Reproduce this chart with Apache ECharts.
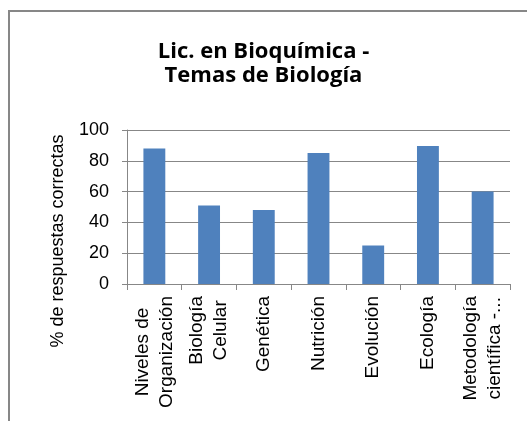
<!DOCTYPE html>
<html>
<head>
<meta charset="utf-8">
<script src="https://cdn.jsdelivr.net/npm/echarts@6/dist/echarts.min.js"></script>
<style>
html,body{margin:0;padding:0;background:#fff;}
#c{width:527px;height:421px;}
</style>
</head>
<body>
<div id="c"></div>
<script>
var titleText = 'Lic. en Bioquímica -\nTemas de Biología';
var yAxisName = '% de respuestas correctas';
var categories = [
  ['Niveles de', 'Organización'],
  ['Biología', 'Celular'],
  ['Genética'],
  ['Nutrición'],
  ['Evolución'],
  ['Ecología'],
  ['Metodología', 'científica -...']
];
var values = [88, 51, 48, 85, 25, 89.6, 60];
var yTicks = [0, 20, 40, 60, 80, 100];

var chart = echarts.init(document.getElementById('c'));
var gray = '#878787';
chart.setOption({
  animation: false,
  backgroundColor: '#fff',
  graphic: [{
    type: 'rect',
    shape: {x: 9, y: 11, width: 560, height: 460},
    style: {fill: 'none', stroke: gray, lineWidth: 2},
    silent: true
  }],
  title: {
    text: titleText,
    left: 'center',
    top: 40,
    padding: [0, 0, 0, 26],
    textStyle: {
      fontFamily: 'Open Sans',
      fontWeight: 'bold',
      fontSize: 22,
      lineHeight: 24,
      color: '#000'
    }
  },
  grid: {left: 127, top: 130, right: 17, bottom: 137, containLabel: false},
  xAxis: {
    type: 'category',
    data: categories.map(function (c) { return c.join('\n'); }),
    axisLine: {lineStyle: {color: gray, width: 1}},
    axisTick: {show: true, length: 6, lineStyle: {color: gray}},
    axisLabel: {
      rotate: 90,
      interval: 0,
      margin: 12,
      fontFamily: 'Liberation Sans',
      fontSize: 19,
      lineHeight: 24,
      color: '#000',
      formatter: function (v) {
        return v.split('\n').map(function (l) { return '{c|' + l + '}'; }).join('\n');
      },
      rich: {c: {align: 'center', fontFamily: 'Liberation Sans', fontSize: 19, lineHeight: 24, color: '#000'}}
    }
  },
  yAxis: {
    type: 'value',
    min: yTicks[0],
    max: yTicks[yTicks.length - 1],
    interval: 20,
    name: yAxisName,
    nameLocation: 'middle',
    nameRotate: 90,
    nameGap: 60,
    nameTextStyle: {
      fontFamily: 'Liberation Sans',
      fontSize: 18,
      color: '#000',
      padding: [0, 68, 0, 0]
    },
    axisLine: {show: true, lineStyle: {color: gray, width: 1}},
    axisTick: {show: true, length: 5, lineStyle: {color: gray}},
    splitLine: {lineStyle: {color: gray, width: 1}},
    axisLabel: {
      margin: 18,
      fontFamily: 'Liberation Sans',
      fontSize: 18,
      color: '#000'
    }
  },
  series: [{
    type: 'bar',
    data: values,
    barWidth: '40%',
    itemStyle: {color: '#4F81BD'}
  }]
});
</script>
</body>
</html>
